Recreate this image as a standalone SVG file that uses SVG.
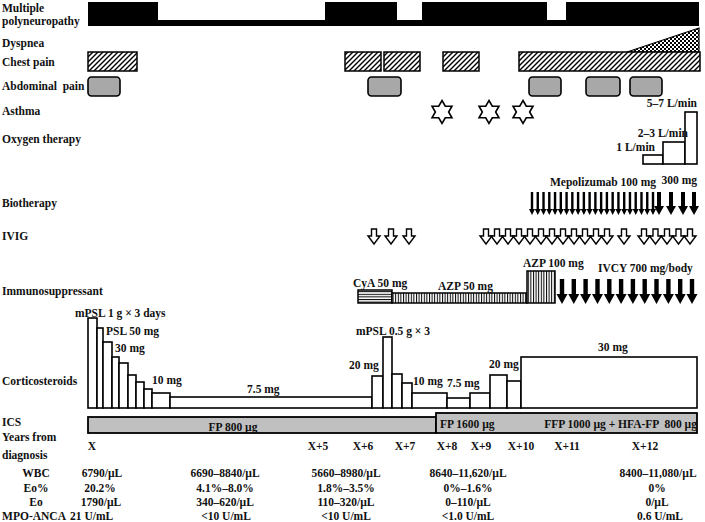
<svg xmlns="http://www.w3.org/2000/svg" width="705" height="522" viewBox="0 0 705 522">
<style>
text{font-family:"Liberation Serif","Times New Roman",serif;font-weight:bold;font-size:11.5px;fill:#111}
.m{text-anchor:middle}
.e{text-anchor:end}
.bx{stroke:#000;stroke-width:1.6;fill:#fff}
.hat{stroke:#000;stroke-width:1.5;fill:url(#hatch)}
.abd{stroke:#000;stroke-width:1.6;fill:#a8a8a8}
.ivig{stroke:#000;stroke-width:1.4;fill:#fff}
</style>
<defs>
<pattern id="hatch" patternUnits="userSpaceOnUse" width="5" height="5">
<rect width="5" height="5" fill="#fff"/>
<path d="M-1,1 l2,-2 M0,5 l5,-5 M4,6 l2,-2" stroke="#000" stroke-width="1.4"/>
</pattern>
<pattern id="checker" patternUnits="userSpaceOnUse" width="4" height="4">
<rect width="4" height="4" fill="#fff"/>
<rect width="2" height="2" fill="#000"/>
<rect x="2" y="2" width="2" height="2" fill="#000"/>
</pattern>
<pattern id="hstripe" patternUnits="userSpaceOnUse" width="4" height="2.6">
<rect width="4" height="2.6" fill="#fff"/>
<rect width="4" height="1" fill="#000"/>
</pattern>
<pattern id="vstripe" patternUnits="userSpaceOnUse" width="2.6" height="4">
<rect width="2.6" height="4" fill="#fff"/>
<rect width="1" height="4" fill="#000"/>
</pattern>
<path id="thin" d="M-1.2,0 H1.2 V17 H3 L0,23 L-3,17 H-1.2 Z" fill="#000"/>
<path id="thick" d="M-2,0 H2 V14 H5 L0,23 L-5,14 H-2 Z" fill="#000"/>
<path id="hollow" d="M-2.5,0 H2.5 V7 H6 L0,15 L-6,7 H-2.5 Z" class="ivig"/>
<path id="ivcy" d="M-2.2,0 H2.2 V15 H5.5 L0,25 L-5.5,15 H-2.2 Z" fill="#000"/>
<polygon id="star" points="0,-11.5 3.3,-5.75 9.96,-5.75 6.64,0 9.96,5.75 3.3,5.75 0,11.5 -3.3,5.75 -9.96,5.75 -6.64,0 -9.96,-5.75 -3.3,-5.75" fill="#fff" stroke="#000" stroke-width="1.6"/>
</defs>

<g id="labels">
<text x="2" y="12">Multiple</text>
<text x="2" y="25">polyneuropathy</text>
<text x="2" y="47">Dyspnea</text>
<text x="2" y="66">Chest pain</text>
<text x="2" y="90" xml:space="preserve">Abdominal  pain</text>
<text x="2" y="115">Asthma</text>
<text x="2" y="143">Oxygen therapy</text>
<text x="2" y="207">Biotherapy</text>
<text x="2" y="240">IVIG</text>
<text x="2" y="295">Immunosuppressant</text>
<text x="2" y="385">Corticosteroids</text>
<text x="2" y="426">ICS</text>
<text x="2" y="441">Years from</text>
<text x="2" y="459">diagnosis</text>
</g>

<g id="polyneuropathy">
<path d="M88,2 H158 V20 H325 V2 H397 V20 H422 V2 H547 V20 H566 V2 H699 V26 H88 Z" fill="#000"/>
</g>

<g id="dyspnea">
<polygon points="627,52 699,28 699,52" fill="url(#checker)" stroke="#000" stroke-width="1.2"/>
</g>

<g id="chest-pain">
<rect class="hat" x="88" y="52" width="49" height="19"/>
<rect class="hat" x="345" y="52" width="36" height="19"/>
<rect class="hat" x="384" y="52" width="36" height="19"/>
<rect class="hat" x="443" y="52" width="36" height="19"/>
<rect class="hat" x="519" y="52" width="181" height="19"/>
</g>

<g id="abdominal-pain">
<rect class="abd" x="88" y="77" width="32" height="19" rx="3.5"/>
<rect class="abd" x="368" y="77" width="33" height="19" rx="3.5"/>
<rect class="abd" x="529" y="77" width="32" height="19" rx="3.5"/>
<rect class="abd" x="586" y="77" width="34" height="19" rx="3.5"/>
<rect class="abd" x="630" y="77" width="32" height="19" rx="3.5"/>
</g>

<g id="asthma">
<use href="#star" x="442" y="112"/>
<use href="#star" x="489" y="112"/>
<use href="#star" x="523" y="112"/>
</g>

<g id="oxygen">
<rect class="bx" x="643" y="155" width="20" height="9"/>
<rect class="bx" x="663" y="142" width="22" height="22"/>
<rect class="bx" x="685" y="112" width="12" height="52"/>
<text x="697" y="107" class="e">5–7 L/min</text>
<text x="688" y="137" class="e">2–3 L/min</text>
<text x="655" y="151" class="e">1 L/min</text>
</g>

<g id="biotherapy">
<text x="550" y="186">Mepolizumab  100 mg</text>
<text x="697" y="184" class="e">300 mg</text>
<use href="#thin" x="532" y="192"/>
<use href="#thin" x="537.76" y="192"/>
<use href="#thin" x="543.52" y="192"/>
<use href="#thin" x="549.29" y="192"/>
<use href="#thin" x="555.05" y="192"/>
<use href="#thin" x="560.81" y="192"/>
<use href="#thin" x="566.57" y="192"/>
<use href="#thin" x="572.33" y="192"/>
<use href="#thin" x="578.1" y="192"/>
<use href="#thin" x="583.86" y="192"/>
<use href="#thin" x="589.62" y="192"/>
<use href="#thin" x="595.38" y="192"/>
<use href="#thin" x="601.14" y="192"/>
<use href="#thin" x="606.9" y="192"/>
<use href="#thin" x="612.67" y="192"/>
<use href="#thin" x="618.43" y="192"/>
<use href="#thin" x="624.19" y="192"/>
<use href="#thin" x="629.95" y="192"/>
<use href="#thin" x="635.71" y="192"/>
<use href="#thin" x="641.48" y="192"/>
<use href="#thin" x="647.24" y="192"/>
<use href="#thin" x="653" y="192"/>
<use href="#thick" x="659" y="192"/>
<use href="#thick" x="671" y="192"/>
<use href="#thick" x="683" y="192"/>
<use href="#thick" x="694" y="192"/>
</g>

<g id="ivig">
<use href="#hollow" x="374" y="229"/>
<use href="#hollow" x="391" y="229"/>
<use href="#hollow" x="409" y="229"/>
<use href="#hollow" x="486" y="229"/>
<use href="#hollow" x="497" y="229"/>
<use href="#hollow" x="508" y="229"/>
<use href="#hollow" x="519" y="229"/>
<use href="#hollow" x="530" y="229"/>
<use href="#hollow" x="541" y="229"/>
<use href="#hollow" x="552" y="229"/>
<use href="#hollow" x="563" y="229"/>
<use href="#hollow" x="574" y="229"/>
<use href="#hollow" x="585" y="229"/>
<use href="#hollow" x="596" y="229"/>
<use href="#hollow" x="607" y="229"/>
<use href="#hollow" x="624" y="229"/>
<use href="#hollow" x="644" y="229"/>
<use href="#hollow" x="655.5" y="229"/>
<use href="#hollow" x="667" y="229"/>
<use href="#hollow" x="678.5" y="229"/>
<use href="#hollow" x="690" y="229"/>
</g>

<g id="immunosuppressant">
<rect x="358" y="290" width="34" height="13" fill="url(#hstripe)" stroke="#000" stroke-width="1.5"/>
<rect x="392" y="293" width="135" height="10" fill="url(#vstripe)" stroke="#000" stroke-width="1.5"/>
<rect x="527" y="271" width="28" height="32" fill="url(#vstripe)" stroke="#000" stroke-width="1.5"/>
<text x="353" y="287">CyA 50 mg</text>
<text x="438" y="290">AZP  50 mg</text>
<text x="523" y="267">AZP  100 mg</text>
<text x="598" y="272">IVCY  700 mg/body</text>
<use href="#ivcy" x="562" y="279"/>
<use href="#ivcy" x="573.8" y="279"/>
<use href="#ivcy" x="585.6" y="279"/>
<use href="#ivcy" x="597.5" y="279"/>
<use href="#ivcy" x="609.3" y="279"/>
<use href="#ivcy" x="621.1" y="279"/>
<use href="#ivcy" x="632.9" y="279"/>
<use href="#ivcy" x="644.7" y="279"/>
<use href="#ivcy" x="656.5" y="279"/>
<use href="#ivcy" x="668.4" y="279"/>
<use href="#ivcy" x="680.2" y="279"/>
<use href="#ivcy" x="692" y="279"/>
</g>

<g id="corticosteroids">
<rect class="bx" x="88" y="318" width="9" height="90"/>
<rect class="bx" x="97" y="328" width="6" height="80"/>
<rect class="bx" x="103" y="342" width="9" height="66"/>
<rect class="bx" x="112" y="357" width="7" height="51"/>
<rect class="bx" x="119" y="363" width="9" height="45"/>
<rect class="bx" x="128" y="375" width="8" height="33"/>
<rect class="bx" x="136" y="382" width="8" height="26"/>
<rect class="bx" x="144" y="389" width="8" height="19"/>
<rect class="bx" x="152" y="393" width="18" height="15"/>
<rect class="bx" x="170" y="397" width="202" height="11"/>
<rect class="bx" x="372" y="376" width="11" height="32"/>
<rect class="bx" x="383" y="337" width="9" height="71"/>
<rect class="bx" x="392" y="374" width="10" height="34"/>
<rect class="bx" x="402" y="383" width="10" height="25"/>
<rect class="bx" x="412" y="393" width="35" height="15"/>
<rect class="bx" x="447" y="398" width="23" height="10"/>
<rect class="bx" x="470" y="393" width="20" height="15"/>
<rect class="bx" x="490" y="375" width="17" height="33"/>
<rect class="bx" x="507" y="381" width="14" height="27"/>
<rect class="bx" x="521" y="357" width="176" height="51"/>
<text x="75" y="317">mPSL  1 g × 3 days</text>
<text x="106" y="335">PSL 50 mg</text>
<text x="115" y="352">30 mg</text>
<text x="152" y="384">10 mg</text>
<text x="247" y="393">7.5 mg</text>
<text x="349" y="369">20 mg</text>
<text x="356" y="335">mPSL  0.5 g × 3</text>
<text x="413" y="385">10 mg</text>
<text x="447" y="387">7.5 mg</text>
<text x="489" y="368">20 mg</text>
<text x="598" y="351">30 mg</text>
</g>

<g id="ics">
<rect x="88" y="417" width="348" height="16" fill="#c0c0c0" stroke="#000" stroke-width="1.8"/>
<rect x="436" y="413" width="261" height="20" fill="#c0c0c0" stroke="#000" stroke-width="1.8"/>
<text x="233" y="431" class="m">FP 800 µg</text>
<text x="440" y="428">FP 1600 µg</text>
<text x="697" y="428" class="e" xml:space="preserve">FFP 1000 µg + HFA-FP  800 µg</text>
</g>

<g id="years">
<text x="92" y="450" class="m">X</text>
<text x="318" y="450" class="m">X+5</text>
<text x="363" y="450" class="m">X+6</text>
<text x="405" y="450" class="m">X+7</text>
<text x="447" y="450" class="m">X+8</text>
<text x="481" y="450" class="m">X+9</text>
<text x="521" y="450" class="m">X+10</text>
<text x="567" y="450" class="m">X+11</text>
<text x="645" y="450" class="m">X+12</text>
</g>

<g id="table">
<text x="36" y="477" class="m">WBC</text>
<text x="36" y="492" class="m">Eo%</text>
<text x="36" y="506" class="m">Eo</text>
<text x="34" y="520" class="m">MPO-ANCA</text>
<text x="102" y="477" class="m">6790/µL</text>
<text x="100" y="492" class="m">20.2%</text>
<text x="101" y="506" class="m">1790/µL</text>
<text x="70" y="520">21 U/mL</text>
<text x="225" y="477" class="m">6690–8840/µL</text>
<text x="225" y="492" class="m">4.1%–8.0%</text>
<text x="225" y="506" class="m">340–620/µL</text>
<text x="226" y="520" class="m">&lt;10 U/mL</text>
<text x="346" y="477" class="m">5660–8980/µL</text>
<text x="346" y="492" class="m">1.8%–3.5%</text>
<text x="346" y="506" class="m">110–320/µL</text>
<text x="346" y="520" class="m">&lt;10 U/mL</text>
<text x="468" y="477" class="m">8640–11,620/µL</text>
<text x="468" y="492" class="m">0%–1.6%</text>
<text x="468" y="506" class="m">0–110/µL</text>
<text x="468" y="520" class="m">&lt;1.0 U/mL</text>
<text x="658" y="477" class="m">8400–11,080/µL</text>
<text x="657" y="492" class="m">0%</text>
<text x="657" y="506" class="m">0/µL</text>
<text x="660" y="520" class="m">0.6 U/mL</text>
</g>
</svg>
